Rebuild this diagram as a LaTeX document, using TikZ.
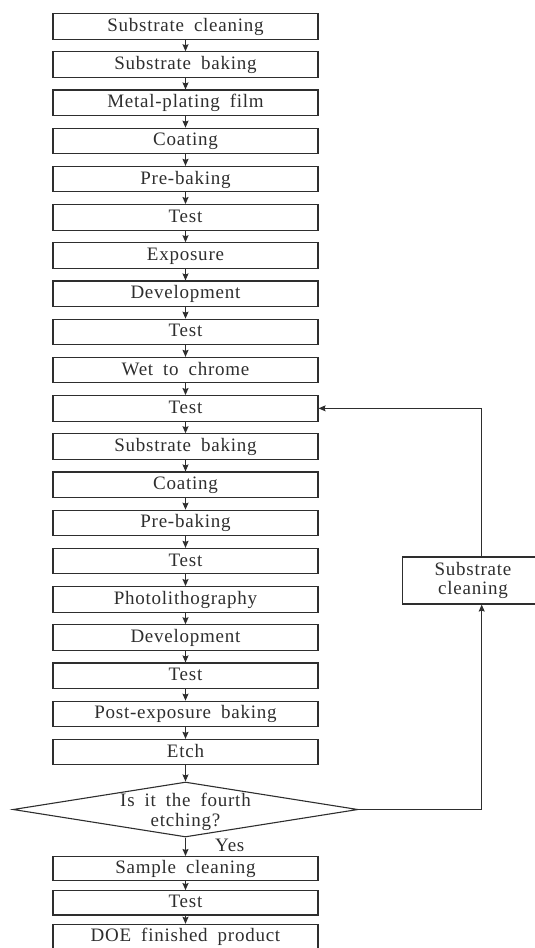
\documentclass[tikz,border=0pt]{standalone}
\usepackage{fontspec}
\setmainfont[LetterSpace=4,WordSpace=1.8]{Liberation Serif}
\usetikzlibrary{arrows.meta,shapes.geometric}
\definecolor{ink}{HTML}{2E2E2E}
\tikzset{
  stepbox/.style={draw=ink,line width=1.1pt,text=ink,minimum width=265pt,minimum height=25.5pt,
    inner sep=0pt,text height=13.5pt,text depth=3.5pt,font=\fontsize{19}{20}\selectfont},
  arr/.style={draw=ink,line width=1.1pt,-{Stealth[length=7pt,width=6pt,inset=1pt]}},
  txt/.style={text=ink,font=\fontsize{19}{20}\selectfont,inner sep=0pt}
}
\begin{document}
\begin{tikzpicture}[x=1pt,y=-1pt]
\useasboundingbox (0,0) rectangle (535,948);
\foreach \t [count=\i from 0] in {Substrate cleaning,Substrate baking,Metal-plating film,Coating,Pre-baking,Test,Exposure,Development,Test,Wet to chrome,Test,Substrate baking,Coating,Pre-baking,Test,Photolithography,Development,Test,Post-exposure baking,Etch}{
  \node[stepbox] (b\i) at (185.5,{26.35+38.2*\i}) {\t};
}
\foreach \i [evaluate=\i as \j using int(\i+1)] in {0,...,18}{
  \draw[arr] (b\i) -- (b\j);
}
\node[draw=ink,line width=1.1pt,diamond,minimum width=345pt,minimum height=55pt,shape aspect=6.27,inner sep=0pt] (dec) at (185.5,809.5) {};
\node[txt,align=center] (dtext) at (185.5,812) {Is it the fourth\\etching?};
\draw[arr] (b19) -- (dec.north);
\node[stepbox,minimum height=24.3pt] (s1) at (185.5,868.7) {Sample cleaning};
\node[stepbox,minimum height=24.3pt] (s2) at (185.5,902.8) {Test};
\node[stepbox,minimum height=24.5pt] (s3) at (185.5,936.6) {DOE finished product};
\draw[arr] (dec.south) -- (s1);
\node[txt,anchor=base west] (yes) at (215,851.7) {Yes};
\draw[arr] (s1) -- (s2);
\draw[arr] (s2) -- (s3);
\node[draw=ink,line width=1.1pt,minimum width=141pt,minimum height=47pt,inner sep=0pt,align=center,text=ink,font=\fontsize{19}{18.3}\selectfont] (rc) at (473,580.5) {Substrate\\cleaning};
\coordinate (lx) at (481.7,0);
\draw[arr] (dec.east) -- (dec.east -| lx) -- (rc.south -| lx);
\draw[arr] (rc.north -| lx) |- (b10.east);
\end{tikzpicture}
\end{document}
